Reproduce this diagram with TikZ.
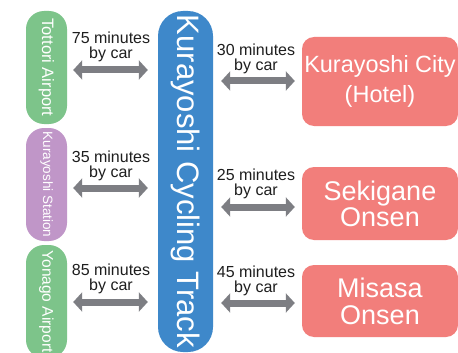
\documentclass[tikz,border=0pt]{standalone}
\usepackage{fontspec}
\setmainfont{Liberation Sans}
\usepackage{graphicx}
\usetikzlibrary{arrows.meta}
\definecolor{boxgreen}{RGB}{125,196,138}
\definecolor{boxpurple}{RGB}{192,150,200}
\definecolor{boxblue}{RGB}{62,136,202}
\definecolor{boxred}{RGB}{242,126,123}
\definecolor{arrgrey}{RGB}{125,126,131}
\definecolor{labtext}{RGB}{30,30,30}
\begin{document}
\begin{tikzpicture}[x=1pt,y=-1pt,
  pill/.style={fill=#1, draw=none, minimum width=41pt, minimum height=113pt,
    rounded corners=18pt, inner sep=0pt, text=white},
  trackbox/.style={fill=boxblue, draw=none, minimum width=55pt, minimum height=341pt,
    rounded corners=25pt, inner sep=0pt, text=white},
  destbox/.style={fill=boxred, draw=none, minimum width=156pt, minimum height=#1,
    rounded corners=12pt, inner sep=0pt, text=white, align=center},
  arr/.style={draw=arrgrey, line width=7pt,
    {Triangle[width=19pt,length=9pt]}-{Triangle[width=19pt,length=9pt]}},
  lab/.style={font=\fontsize{16}{15}\selectfont, align=center, inner sep=0pt,
    anchor=north, text=labtext},
]
\useasboundingbox (0,0) rectangle (458,353);
\clip (0,0) rectangle (458,353);
\fill[white] (0,0) rectangle (458,353);

% left boxes
\node[pill=boxgreen] (tottori) at (46.5,67.5)
  {\rotatebox{-90}{\fontsize{16.5}{16}\selectfont Tottori Airport}};
\node[pill=boxpurple] (station) at (46.5,184.5)
  {\rotatebox{-90}{\fontsize{13.5}{13}\selectfont Kurayoshi Station}};
\node[pill=boxgreen] (yonago) at (46.5,301.5)
  {\rotatebox{-90}{\fontsize{15.5}{15}\selectfont Yonago Airport}};

% central track
\node[trackbox] (track) at (185.5,181.5)
  {\rotatebox{-90}{\fontsize{31}{31}\selectfont Kurayoshi Cycling Track}};

% right boxes
\node[destbox=89pt, font=\fontsize{23.5}{30}\selectfont] (city) at (380,81.5)
  {Kurayoshi City\\(Hotel)};
\node[destbox=73pt, font=\fontsize{27}{26}\selectfont] (sekigane) at (380,203.5)
  {Sekigane\\Onsen};
\node[destbox=72pt, font=\fontsize{27}{27}\selectfont] (misasa) at (380,301)
  {Misasa\\Onsen};

% left arrows
\draw[arr] ([xshift=6pt,yshift=-2.5pt]tottori.east)
  -- ([xshift=-10pt,yshift=-2.5pt]tottori.east -| track.west);
\draw[arr] ([xshift=6pt,yshift=-3.5pt]station.east)
  -- ([xshift=-10pt,yshift=-3.5pt]station.east -| track.west);
\draw[arr] ([xshift=6pt,yshift=-0.5pt]yonago.east)
  -- ([xshift=-10pt,yshift=-0.5pt]yonago.east -| track.west);

% right arrows
\draw[arr] ([xshift=8pt,yshift=0.5pt]city.west -| track.east)
  -- ([xshift=-7pt,yshift=0.5pt]city.west);
\draw[arr] ([xshift=8pt,yshift=-3.5pt]sekigane.west -| track.east)
  -- ([xshift=-7pt,yshift=-3.5pt]sekigane.west);
\draw[arr] ([xshift=8pt,yshift=-2pt]misasa.west -| track.east)
  -- ([xshift=-7pt,yshift=-2pt]misasa.west);

% labels
\node[lab] (l1) at (111,31.7) {75 minutes\\by car};
\node[lab] (l2) at (111,150.5) {35 minutes\\by car};
\node[lab] (l3) at (111,263.5) {85 minutes\\by car};
\node[lab] (r1) at (256,44) {30 minutes\\by car};
\node[lab] (r2) at (256,168.5) {25 minutes\\by car};
\node[lab] (r3) at (256,265.5) {45 minutes\\by car};
\end{tikzpicture}
\end{document}
